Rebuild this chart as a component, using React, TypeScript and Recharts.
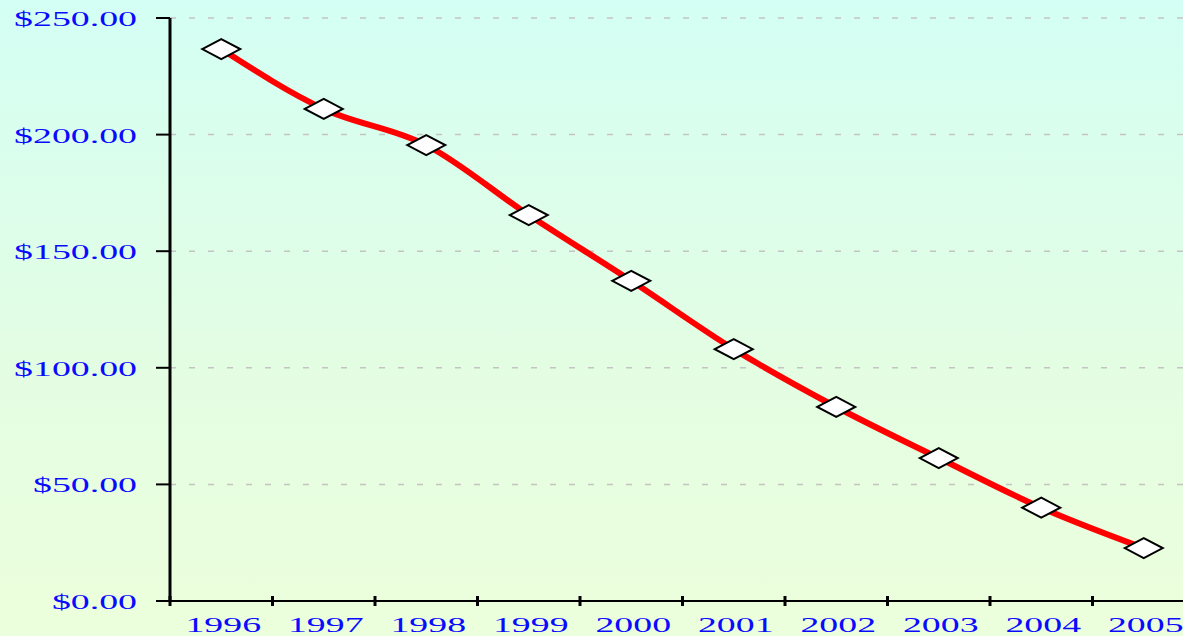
import React from "react";
import { LineChart, Line, XAxis, YAxis, CartesianGrid } from "recharts";

const years = ["1996", "1997", "1998", "1999", "2000", "2001", "2002", "2003", "2004", "2005"];
const prices = [236.7, 211, 195.5, 165.5, 137.3, 108, 83.2, 61.3, 40, 22.7];
const yTicks = [0, 50, 100, 150, 200, 250];

const data = years.map((y, i) => ({ x: i + 0.5, year: y, price: prices[i] }));
const xTicks: number[] = [];
for (let i = 0; i <= years.length; i++) {
  xTicks.push(i);
  if (i < years.length) xTicks.push(i + 0.5);
}

const BLUE = "#0a0aff";
const FONT = "'Liberation Serif', 'Times New Roman', serif";

const YTick = (props: any) => {
  const { y, payload } = props;
  return (
    <g>
      <line x1={156} x2={170} y1={y} y2={y} stroke="#000" strokeWidth={2} />
      <text
        transform={`translate(${137},${y + 8}) scale(1.72,1)`}
        textAnchor="end"
        fill={BLUE}
        fontFamily={FONT}
        fontSize={22}
      >
        {"$" + Number(payload.value).toFixed(2)}
      </text>
    </g>
  );
};

const XTick = (props: any) => {
  const { x, payload } = props;
  const v = payload.value as number;
  if (Number.isInteger(v)) {
    return <line x1={x} x2={x} y1={596} y2={606} stroke="#000" strokeWidth={3} />;
  }
  const idx = Math.floor(v);
  return (
    <text
      transform={`translate(${x + 2},${632}) scale(1.8,1)`}
      textAnchor="middle"
      fill={BLUE}
      fontFamily={FONT}
      fontSize={21}
    >
      {years[idx]}
    </text>
  );
};

const Diamond = (props: any) => {
  const { cx, cy } = props;
  if (cx == null || cy == null) return null;
  const w = 19;
  const h = 10;
  return (
    <path
      d={`M${cx - w},${cy} L${cx},${cy - h} L${cx + w},${cy} L${cx},${cy + h} Z`}
      fill="#fff"
      stroke="#000"
      strokeWidth={2}
    />
  );
};

export default function App() {
  return (
    <div
      style={{
        position: "absolute",
        left: 0,
        top: 0,
        width: 1183,
        height: 636,
        overflow: "hidden",
        background: "linear-gradient(to bottom, #d4fff4 0%, #e4fde2 60%, #ecffdc 100%)",
      }}
    >
      <LineChart
        width={1215}
        height={636}
        data={data}
        margin={{ top: 18, right: 20, bottom: 0, left: 0 }}
      >
        <CartesianGrid
          vertical={false}
          stroke="#c4c4c4"
          strokeDasharray="6 13"
          strokeWidth={1.5}
          horizontalValues={[50, 100, 150, 200, 250]}
        />
        <XAxis
          dataKey="x"
          type="number"
          domain={[0, 10]}
          ticks={xTicks}
          interval={0}
          axisLine={{ stroke: "#000", strokeWidth: 2 }}
          tickLine={false}
          tick={<XTick />}
          height={35}
        />
        <YAxis
          domain={[0, 250]}
          ticks={yTicks}
          interval={0}
          width={170}
          axisLine={{ stroke: "#000", strokeWidth: 3 }}
          tickLine={false}
          tick={<YTick />}
        />
        <Line
          type="monotone"
          dataKey="price"
          stroke="#ff0000"
          strokeWidth={6}
          dot={<Diamond />}
          activeDot={false}
          isAnimationActive={false}
        />
      </LineChart>
    </div>
  );
}
